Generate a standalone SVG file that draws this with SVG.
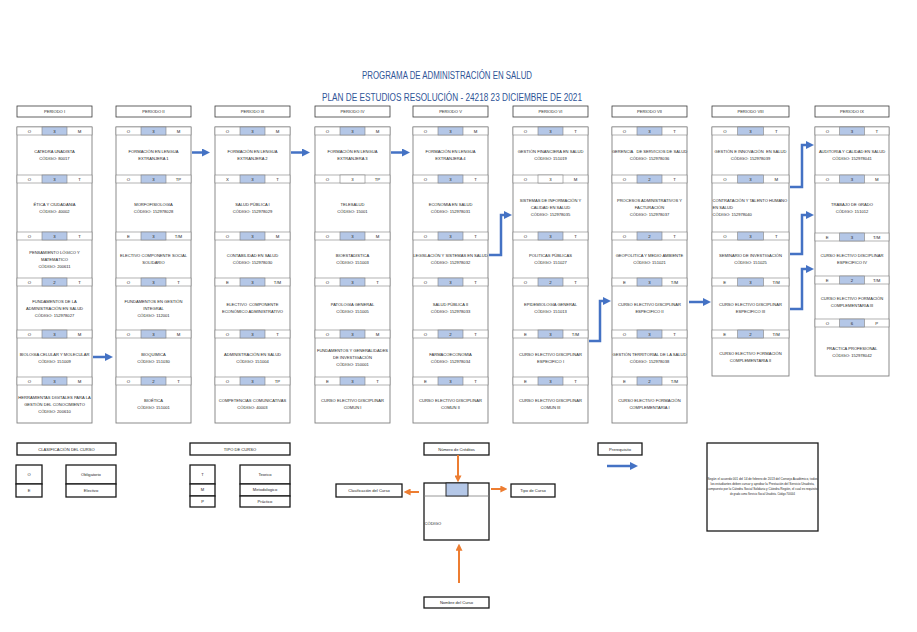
<svg xmlns="http://www.w3.org/2000/svg" width="917" height="632" viewBox="0 0 917 632">
<style>
.bg{fill:#fff}
.hdr{fill:#fff;stroke:#3a3a3a;stroke-width:0.8}
.col{fill:#fff;stroke:#7f7f7f;stroke-width:0.9}
.st{fill:#fff;stroke:#7f7f7f;stroke-width:0.6}
.hl{fill:#b4c7e7;stroke:#7f7f7f;stroke-width:0.6}
.nh{fill:#fff;stroke:#7f7f7f;stroke-width:0.6}
.t{font-family:"Liberation Sans",Arial,sans-serif;font-size:4.1px;fill:#262626;text-anchor:middle}
.k{font-size:4.3px}
.l{text-anchor:start}
.ttl{font-family:"Liberation Sans",Arial,sans-serif;font-size:10px;fill:#2f5597;text-anchor:middle}
.lg{fill:#fff;stroke:#1a1a1a;stroke-width:1.3}
.blue{fill:none;stroke:#4472c4;stroke-width:2.5}
.orange{fill:none;stroke:#ed7d31;stroke-width:2}
.nt{font-size:3.2px}
</style>
<defs>
<marker id="ab" viewBox="0 0 8 8" refX="3" refY="4" markerWidth="8" markerHeight="8" markerUnits="userSpaceOnUse" orient="auto"><path d="M0,0 L8,4 L0,8 z" fill="#4472c4"/></marker>
<marker id="ao" viewBox="0 0 8 8" refX="3" refY="4" markerWidth="7" markerHeight="7" markerUnits="userSpaceOnUse" orient="auto"><path d="M0,0 L8,4 L0,8 z" fill="#ed7d31"/></marker>
</defs>
<rect class="bg" x="0" y="0" width="917" height="632"/>
<g id="title">
<text class="ttl" x="447" y="79" textLength="170" lengthAdjust="spacingAndGlyphs">PROGRAMA DE ADMINISTRACIÓN EN SALUD</text>
<text class="ttl" x="452" y="101" textLength="260" lengthAdjust="spacingAndGlyphs">PLAN DE ESTUDIOS RESOLUCIÓN - 24218 23 DICIEMBRE DE 2021</text>
</g>

<!-- Column I -->
<g id="p1">
<rect class="hdr" x="17" y="106" width="75" height="11"/><text class="t" x="54.5" y="113.4">PERIODO I</text>
<rect class="col" x="17" y="127" width="75" height="296"/>
<g id="c1-1"><rect class="st" x="17" y="127" width="75" height="8"/><rect class="hl" x="42" y="127" width="25" height="8"/><text class="t k" x="29.5" y="132.6">O</text><text class="t k" x="54.5" y="132.6">3</text><text class="t k" x="79.5" y="132.6">M</text><text class="t" x="54.5" y="153">CATEDRA UNADISTA</text><text class="t" x="54.5" y="160">CÓDIGO: 80017</text></g>
<g id="c1-2"><rect class="st" x="17" y="175" width="75" height="8"/><rect class="hl" x="42" y="175" width="25" height="8"/><text class="t k" x="29.5" y="180.6">O</text><text class="t k" x="54.5" y="180.6">3</text><text class="t k" x="79.5" y="180.6">T</text><text class="t" x="54.5" y="205.5">ÉTICA Y CIUDADANÍA</text><text class="t" x="54.5" y="212.5">CÓDIGO: 40002</text></g>
<g id="c1-3"><rect class="st" x="17" y="232" width="75" height="8"/><rect class="hl" x="42" y="232" width="25" height="8"/><text class="t k" x="29.5" y="237.6">O</text><text class="t k" x="54.5" y="237.6">3</text><text class="t k" x="79.5" y="237.6">T</text><text class="t" x="54.5" y="253.5">PENSAMIENTO LÓGICO Y</text><text class="t" x="54.5" y="260.5">MATEMÁTICO</text><text class="t" x="54.5" y="267.5">CÓDIGO: 200611</text></g>
<g id="c1-4"><rect class="st" x="17" y="278" width="75" height="8"/><rect class="hl" x="42" y="278" width="25" height="8"/><text class="t k" x="29.5" y="283.6">O</text><text class="t k" x="54.5" y="283.6">2</text><text class="t k" x="79.5" y="283.6">T</text><text class="t" x="54.5" y="302.5">FUNDAMENTOS DE LA</text><text class="t" x="54.5" y="309.5">ADMINISTRACIÓN EN SALUD</text><text class="t" x="54.5" y="316.5">CÓDIGO: 152978027</text></g>
<g id="c1-5"><rect class="st" x="17" y="330" width="75" height="8"/><rect class="hl" x="42" y="330" width="25" height="8"/><text class="t k" x="29.5" y="335.6">O</text><text class="t k" x="54.5" y="335.6">3</text><text class="t k" x="79.5" y="335.6">M</text><text class="t" x="54.5" y="355.5">BIOLOGÍA CELULAR Y MOLECULAR</text><text class="t" x="54.5" y="362.5">CÓDIGO: 151009</text></g>
<g id="c1-6"><rect class="st" x="17" y="377" width="75" height="8"/><rect class="hl" x="42" y="377" width="25" height="8"/><text class="t k" x="29.5" y="382.6">O</text><text class="t k" x="54.5" y="382.6">3</text><text class="t k" x="79.5" y="382.6">M</text><text class="t" x="54.5" y="398.5">HERRAMIENTAS DIGITALES PARA LA</text><text class="t" x="54.5" y="405.5">GESTIÓN DEL CONOCIMIENTO</text><text class="t" x="54.5" y="412.5">CÓDIGO: 200610</text></g>
</g>

<!-- Column II -->
<g id="p2">
<rect class="hdr" x="116" y="106" width="75" height="11"/><text class="t" x="153.5" y="113.4">PERIODO II</text>
<rect class="col" x="116" y="127" width="75" height="296"/>
<g id="c2-1"><rect class="st" x="116" y="127" width="75" height="8"/><rect class="hl" x="141" y="127" width="25" height="8"/><text class="t k" x="128.5" y="132.6">O</text><text class="t k" x="153.5" y="132.6">3</text><text class="t k" x="178.5" y="132.6">M</text><text class="t" x="153.5" y="153">FORMACIÓN EN LENGUA</text><text class="t" x="153.5" y="160">EXTRANJERA 1</text></g>
<g id="c2-2"><rect class="st" x="116" y="175" width="75" height="8"/><rect class="hl" x="141" y="175" width="25" height="8"/><text class="t k" x="128.5" y="180.6">O</text><text class="t k" x="153.5" y="180.6">3</text><text class="t k" x="178.5" y="180.6">TP</text><text class="t" x="153.5" y="205.5">MORFOFISIOLOGÍA</text><text class="t" x="153.5" y="212.5">CÓDIGO: 152978028</text></g>
<g id="c2-3"><rect class="st" x="116" y="232" width="75" height="8"/><rect class="hl" x="141" y="232" width="25" height="8"/><text class="t k" x="128.5" y="237.6">E</text><text class="t k" x="153.5" y="237.6">3</text><text class="t k" x="178.5" y="237.6">T/M</text><text class="t" x="153.5" y="257">ELECTIVO COMPONENTE SOCIAL</text><text class="t" x="153.5" y="264">SOLIDARIO</text></g>
<g id="c2-4"><rect class="st" x="116" y="278" width="75" height="8"/><rect class="hl" x="141" y="278" width="25" height="8"/><text class="t k" x="128.5" y="283.6">O</text><text class="t k" x="153.5" y="283.6">3</text><text class="t k" x="178.5" y="283.6">T</text><text class="t" x="153.5" y="302.5">FUNDAMENTOS EN GESTIÓN</text><text class="t" x="153.5" y="309.5">INTEGRAL</text><text class="t" x="153.5" y="316.5">CÓDIGO: 112001</text></g>
<g id="c2-5"><rect class="st" x="116" y="330" width="75" height="8"/><rect class="hl" x="141" y="330" width="25" height="8"/><text class="t k" x="128.5" y="335.6">O</text><text class="t k" x="153.5" y="335.6">3</text><text class="t k" x="178.5" y="335.6">M</text><text class="t" x="153.5" y="355.5">BIOQUÍMICA</text><text class="t" x="153.5" y="362.5">CÓDIGO: 151030</text></g>
<g id="c2-6"><rect class="st" x="116" y="377" width="75" height="8"/><rect class="hl" x="141" y="377" width="25" height="8"/><text class="t k" x="128.5" y="382.6">O</text><text class="t k" x="153.5" y="382.6">2</text><text class="t k" x="178.5" y="382.6">T</text><text class="t" x="153.5" y="402">BIOÉTICA</text><text class="t" x="153.5" y="409">CÓDIGO: 151001</text></g>
</g>

<!-- Column III -->
<g id="p3">
<rect class="hdr" x="215" y="106" width="75" height="11"/><text class="t" x="252.5" y="113.4">PERIODO III</text>
<rect class="col" x="215" y="127" width="75" height="296"/>
<g id="c3-1"><rect class="st" x="215" y="127" width="75" height="8"/><rect class="hl" x="240" y="127" width="25" height="8"/><text class="t k" x="227.5" y="132.6">O</text><text class="t k" x="252.5" y="132.6">3</text><text class="t k" x="277.5" y="132.6">M</text><text class="t" x="252.5" y="153">FORMACIÓN EN LENGUA</text><text class="t" x="252.5" y="160">EXTRANJERA 2</text></g>
<g id="c3-2"><rect class="st" x="215" y="175" width="75" height="8"/><rect class="hl" x="240" y="175" width="25" height="8"/><text class="t k" x="227.5" y="180.6">X</text><text class="t k" x="252.5" y="180.6">3</text><text class="t k" x="277.5" y="180.6">T</text><text class="t" x="252.5" y="205.5">SALUD PÚBLICA I</text><text class="t" x="252.5" y="212.5">CÓDIGO: 152978029</text></g>
<g id="c3-3"><rect class="st" x="215" y="232" width="75" height="8"/><rect class="hl" x="240" y="232" width="25" height="8"/><text class="t k" x="227.5" y="237.6">O</text><text class="t k" x="252.5" y="237.6">3</text><text class="t k" x="277.5" y="237.6">M</text><text class="t" x="252.5" y="257">CONTABILIDAD EN SALUD</text><text class="t" x="252.5" y="264">CÓDIGO: 152978030</text></g>
<g id="c3-4"><rect class="st" x="215" y="278" width="75" height="8"/><rect class="hl" x="240" y="278" width="25" height="8"/><text class="t k" x="227.5" y="283.6">E</text><text class="t k" x="252.5" y="283.6">3</text><text class="t k" x="277.5" y="283.6">T/M</text><text class="t" x="252.5" y="306" xml:space="preserve">ELECTIVO  COMPONENTE</text><text class="t" x="252.5" y="313">ECONÓMICO ADMINISTRATIVO</text></g>
<g id="c3-5"><rect class="st" x="215" y="330" width="75" height="8"/><rect class="hl" x="240" y="330" width="25" height="8"/><text class="t k" x="227.5" y="335.6">O</text><text class="t k" x="252.5" y="335.6">3</text><text class="t k" x="277.5" y="335.6">T</text><text class="t" x="252.5" y="355.5">ADMINISTRACIÓN EN SALUD</text><text class="t" x="252.5" y="362.5">CÓDIGO: 151004</text></g>
<g id="c3-6"><rect class="st" x="215" y="377" width="75" height="8"/><rect class="hl" x="240" y="377" width="25" height="8"/><text class="t k" x="227.5" y="382.6">O</text><text class="t k" x="252.5" y="382.6">3</text><text class="t k" x="277.5" y="382.6">TP</text><text class="t" x="252.5" y="402">COMPETENCIAS COMUNICATIVAS</text><text class="t" x="252.5" y="409">CÓDIGO: 40003</text></g>
</g>

<!-- Column IV -->
<g id="p4">
<rect class="hdr" x="315" y="106" width="75" height="11"/><text class="t" x="352.5" y="113.4">PERIODO IV</text>
<rect class="col" x="315" y="127" width="75" height="296"/>
<g id="c4-1"><rect class="st" x="315" y="127" width="75" height="8"/><rect class="hl" x="340" y="127" width="25" height="8"/><text class="t k" x="327.5" y="132.6">O</text><text class="t k" x="352.5" y="132.6">3</text><text class="t k" x="377.5" y="132.6">M</text><text class="t" x="352.5" y="153">FORMACIÓN EN LENGUA</text><text class="t" x="352.5" y="160">EXTRANJERA 3</text></g>
<g id="c4-2"><rect class="st" x="315" y="175" width="75" height="8"/><rect class="nh" x="340" y="175" width="25" height="8"/><text class="t k" x="327.5" y="180.6">O</text><text class="t k" x="352.5" y="180.6">3</text><text class="t k" x="377.5" y="180.6">TP</text><text class="t" x="352.5" y="205.5">TELESALUD</text><text class="t" x="352.5" y="212.5">CÓDIGO: 15001</text></g>
<g id="c4-3"><rect class="st" x="315" y="232" width="75" height="8"/><rect class="hl" x="340" y="232" width="25" height="8"/><text class="t k" x="327.5" y="237.6">O</text><text class="t k" x="352.5" y="237.6">3</text><text class="t k" x="377.5" y="237.6">M</text><text class="t" x="352.5" y="257">BIOESTADÍSTICA</text><text class="t" x="352.5" y="264">CÓDIGO: 151003</text></g>
<g id="c4-4"><rect class="st" x="315" y="278" width="75" height="8"/><rect class="hl" x="340" y="278" width="25" height="8"/><text class="t k" x="327.5" y="283.6">O</text><text class="t k" x="352.5" y="283.6">3</text><text class="t k" x="377.5" y="283.6">T</text><text class="t" x="352.5" y="306">PATOLOGÍA GENERAL</text><text class="t" x="352.5" y="313">CÓDIGO: 151005</text></g>
<g id="c4-5"><rect class="st" x="315" y="330" width="75" height="8"/><rect class="hl" x="340" y="330" width="25" height="8"/><text class="t k" x="327.5" y="335.6">O</text><text class="t k" x="352.5" y="335.6">3</text><text class="t k" x="377.5" y="335.6">M</text><text class="t" x="352.5" y="352">FUNDAMENTOS Y GENERALIDADES</text><text class="t" x="352.5" y="359">DE INVESTIGACIÓN</text><text class="t" x="352.5" y="366">CÓDIGO: 150001</text></g>
<g id="c4-6"><rect class="st" x="315" y="377" width="75" height="8"/><rect class="hl" x="340" y="377" width="25" height="8"/><text class="t k" x="327.5" y="382.6">E</text><text class="t k" x="352.5" y="382.6">3</text><text class="t k" x="377.5" y="382.6">T</text><text class="t" x="352.5" y="402">CURSO ELECTIVO DISCIPLINAR</text><text class="t" x="352.5" y="409">COMUN I</text></g>
</g>

<!-- Column V -->
<g id="p5">
<rect class="hdr" x="413" y="106" width="75" height="11"/><text class="t" x="450.5" y="113.4">PERIODO V</text>
<rect class="col" x="413" y="127" width="75" height="296"/>
<g id="c5-1"><rect class="st" x="413" y="127" width="75" height="8"/><rect class="hl" x="438" y="127" width="25" height="8"/><text class="t k" x="425.5" y="132.6">O</text><text class="t k" x="450.5" y="132.6">3</text><text class="t k" x="475.5" y="132.6">M</text><text class="t" x="450.5" y="153">FORMACIÓN EN LENGUA</text><text class="t" x="450.5" y="160">EXTRANJERA 4</text></g>
<g id="c5-2"><rect class="st" x="413" y="175" width="75" height="8"/><rect class="hl" x="438" y="175" width="25" height="8"/><text class="t k" x="425.5" y="180.6">O</text><text class="t k" x="450.5" y="180.6">3</text><text class="t k" x="475.5" y="180.6">T</text><text class="t" x="450.5" y="205.5">ECONOMÍA EN SALUD</text><text class="t" x="450.5" y="212.5">CÓDIGO: 152978031</text></g>
<g id="c5-3"><rect class="st" x="413" y="232" width="75" height="8"/><rect class="hl" x="438" y="232" width="25" height="8"/><text class="t k" x="425.5" y="237.6">O</text><text class="t k" x="450.5" y="237.6">3</text><text class="t k" x="475.5" y="237.6">T</text><text class="t" x="450.5" y="257">LEGISLACIÓN Y SISTEMAS EN SALUD</text><text class="t" x="450.5" y="264">CÓDIGO: 152978032</text></g>
<g id="c5-4"><rect class="st" x="413" y="278" width="75" height="8"/><rect class="hl" x="438" y="278" width="25" height="8"/><text class="t k" x="425.5" y="283.6">O</text><text class="t k" x="450.5" y="283.6">3</text><text class="t k" x="475.5" y="283.6">T</text><text class="t" x="450.5" y="306">SALUD PÚBLICA II</text><text class="t" x="450.5" y="313">CÓDIGO: 152978033</text></g>
<g id="c5-5"><rect class="st" x="413" y="330" width="75" height="8"/><rect class="hl" x="438" y="330" width="25" height="8"/><text class="t k" x="425.5" y="335.6">O</text><text class="t k" x="450.5" y="335.6">2</text><text class="t k" x="475.5" y="335.6">T</text><text class="t" x="450.5" y="355.5">FARMACOECONOMÍA</text><text class="t" x="450.5" y="362.5">CÓDIGO: 152978034</text></g>
<g id="c5-6"><rect class="st" x="413" y="377" width="75" height="8"/><rect class="hl" x="438" y="377" width="25" height="8"/><text class="t k" x="425.5" y="382.6">E</text><text class="t k" x="450.5" y="382.6">3</text><text class="t k" x="475.5" y="382.6">T</text><text class="t" x="450.5" y="402">CURSO ELECTIVO DISCIPLINAR</text><text class="t" x="450.5" y="409">COMUN II</text></g>
</g>

<!-- Column VI -->
<g id="p6">
<rect class="hdr" x="513" y="106" width="75" height="11"/><text class="t" x="550.5" y="113.4">PERIODO VI</text>
<rect class="col" x="513" y="127" width="75" height="296"/>
<g id="c6-1"><rect class="st" x="513" y="127" width="75" height="8"/><rect class="hl" x="538" y="127" width="25" height="8"/><text class="t k" x="525.5" y="132.6">O</text><text class="t k" x="550.5" y="132.6">3</text><text class="t k" x="575.5" y="132.6">T</text><text class="t" x="550.5" y="153">GESTIÓN FINANCIERA EN SALUD</text><text class="t" x="550.5" y="160">CÓDIGO: 151019</text></g>
<g id="c6-2"><rect class="st" x="513" y="175" width="75" height="8"/><rect class="nh" x="538" y="175" width="25" height="8"/><text class="t k" x="525.5" y="180.6">O</text><text class="t k" x="550.5" y="180.6">3</text><text class="t k" x="575.5" y="180.6">M</text><text class="t" x="550.5" y="202">SISTEMAS DE INFORMACIÓN Y</text><text class="t" x="550.5" y="209">CALIDAD EN SALUD</text><text class="t" x="550.5" y="216">CÓDIGO: 152978035</text></g>
<g id="c6-3"><rect class="st" x="513" y="232" width="75" height="8"/><rect class="hl" x="538" y="232" width="25" height="8"/><text class="t k" x="525.5" y="237.6">O</text><text class="t k" x="550.5" y="237.6">3</text><text class="t k" x="575.5" y="237.6">T</text><text class="t" x="550.5" y="257">POLÍTICAS PÚBLICAS</text><text class="t" x="550.5" y="264">CÓDIGO: 151027</text></g>
<g id="c6-4"><rect class="st" x="513" y="278" width="75" height="8"/><rect class="hl" x="538" y="278" width="25" height="8"/><text class="t k" x="525.5" y="283.6">O</text><text class="t k" x="550.5" y="283.6">2</text><text class="t k" x="575.5" y="283.6">T</text><text class="t" x="550.5" y="306">EPIDEMIOLOGÍA GENERAL</text><text class="t" x="550.5" y="313">CÓDIGO: 151013</text></g>
<g id="c6-5"><rect class="st" x="513" y="330" width="75" height="8"/><rect class="hl" x="538" y="330" width="25" height="8"/><text class="t k" x="525.5" y="335.6">E</text><text class="t k" x="550.5" y="335.6">3</text><text class="t k" x="575.5" y="335.6">T/M</text><text class="t" x="550.5" y="355.5">CURSO ELECTIVO DISCIPLINAR</text><text class="t" x="550.5" y="362.5">ESPECÍFICO I</text></g>
<g id="c6-6"><rect class="st" x="513" y="377" width="75" height="8"/><rect class="hl" x="538" y="377" width="25" height="8"/><text class="t k" x="525.5" y="382.6">E</text><text class="t k" x="550.5" y="382.6">3</text><text class="t k" x="575.5" y="382.6">T</text><text class="t" x="550.5" y="402">CURSO ELECTIVO DISCIPLINAR</text><text class="t" x="550.5" y="409">COMUN III</text></g>
</g>

<!-- Column VII -->
<g id="p7">
<rect class="hdr" x="612" y="106" width="75" height="11"/><text class="t" x="649.5" y="113.4">PERIODO VII</text>
<rect class="col" x="612" y="127" width="75" height="296"/>
<g id="c7-1"><rect class="st" x="612" y="127" width="75" height="8"/><rect class="hl" x="637" y="127" width="25" height="8"/><text class="t k" x="624.5" y="132.6">O</text><text class="t k" x="649.5" y="132.6">3</text><text class="t k" x="674.5" y="132.6">T</text><text class="t" x="649.5" y="153" xml:space="preserve">GERENCIA   DE SERVICIOS DE SALUD</text><text class="t" x="649.5" y="160">CÓDIGO: 152978036</text></g>
<g id="c7-2"><rect class="st" x="612" y="175" width="75" height="8"/><rect class="hl" x="637" y="175" width="25" height="8"/><text class="t k" x="624.5" y="180.6">O</text><text class="t k" x="649.5" y="180.6">2</text><text class="t k" x="674.5" y="180.6">T</text><text class="t" x="649.5" y="202">PROCESOS ADMINISTRATIVOS Y</text><text class="t" x="649.5" y="209">FACTURACIÓN</text><text class="t" x="649.5" y="216">CÓDIGO: 152978037</text></g>
<g id="c7-3"><rect class="st" x="612" y="232" width="75" height="8"/><rect class="hl" x="637" y="232" width="25" height="8"/><text class="t k" x="624.5" y="237.6">O</text><text class="t k" x="649.5" y="237.6">2</text><text class="t k" x="674.5" y="237.6">T</text><text class="t" x="649.5" y="257">GEOPOLÍTICA Y MEDIO AMBIENTE</text><text class="t" x="649.5" y="264">CÓDIGO: 151021</text></g>
<g id="c7-4"><rect class="st" x="612" y="278" width="75" height="8"/><rect class="hl" x="637" y="278" width="25" height="8"/><text class="t k" x="624.5" y="283.6">E</text><text class="t k" x="649.5" y="283.6">3</text><text class="t k" x="674.5" y="283.6">T/M</text><text class="t" x="649.5" y="306">CURSO ELECTIVO DISCIPLINAR</text><text class="t" x="649.5" y="313">ESPECÍFICO II</text></g>
<g id="c7-5"><rect class="st" x="612" y="330" width="75" height="8"/><rect class="hl" x="637" y="330" width="25" height="8"/><text class="t k" x="624.5" y="335.6">O</text><text class="t k" x="649.5" y="335.6">3</text><text class="t k" x="674.5" y="335.6">T</text><text class="t" x="649.5" y="355.5">GESTIÓN TERRITORIAL DE LA SALUD</text><text class="t" x="649.5" y="362.5">CÓDIGO: 152978038</text></g>
<g id="c7-6"><rect class="st" x="612" y="377" width="75" height="8"/><rect class="hl" x="637" y="377" width="25" height="8"/><text class="t k" x="624.5" y="382.6">E</text><text class="t k" x="649.5" y="382.6">2</text><text class="t k" x="674.5" y="382.6">T/M</text><text class="t" x="649.5" y="402">CURSO ELECTIVO FORMACIÓN</text><text class="t" x="649.5" y="409">COMPLEMENTARIA I</text></g>
</g>

<!-- Column VIII -->
<g id="p8">
<rect class="hdr" x="712" y="106" width="77" height="11"/><text class="t" x="750.5" y="113.4">PERIODO VIII</text>
<rect class="col" x="712" y="127" width="77" height="249"/>
<g id="c8-1"><rect class="st" x="712" y="127" width="77" height="8"/><rect class="hl" x="737.7" y="127" width="25.7" height="8"/><text class="t k" x="724.8" y="132.6">O</text><text class="t k" x="750.5" y="132.6">3</text><text class="t k" x="776.2" y="132.6">T</text><text class="t" x="750.5" y="153" xml:space="preserve">GESTIÓN E INNOVACIÓN  EN SALUD</text><text class="t" x="750.5" y="160">CÓDIGO: 152978039</text></g>
<g id="c8-2"><rect class="st" x="712" y="175" width="77" height="8"/><rect class="hl" x="737.7" y="175" width="25.7" height="8"/><text class="t k" x="724.8" y="180.6">O</text><text class="t k" x="750.5" y="180.6">3</text><text class="t k" x="776.2" y="180.6">M</text><text class="t l" x="712.5" y="202">CONTRATACIÓN Y TALENTO HUMANO</text><text class="t l" x="712.5" y="209">EN SALUD</text><text class="t l" x="712.5" y="216">CÓDIGO: 152978040</text></g>
<g id="c8-3"><rect class="st" x="712" y="232" width="77" height="8"/><rect class="hl" x="737.7" y="232" width="25.7" height="8"/><text class="t k" x="724.8" y="237.6">O</text><text class="t k" x="750.5" y="237.6">3</text><text class="t k" x="776.2" y="237.6">T</text><text class="t" x="750.5" y="257">SEMINARIO DE INVESTIGACIÓN</text><text class="t" x="750.5" y="264">CÓDIGO: 151025</text></g>
<g id="c8-4"><rect class="st" x="712" y="278" width="77" height="8"/><rect class="hl" x="737.7" y="278" width="25.7" height="8"/><text class="t k" x="724.8" y="283.6">E</text><text class="t k" x="750.5" y="283.6">3</text><text class="t k" x="776.2" y="283.6">T/M</text><text class="t" x="750.5" y="306">CURSO ELECTIVO DISCIPLINAR</text><text class="t" x="750.5" y="313">ESPECÍFICO III</text></g>
<g id="c8-5"><rect class="st" x="712" y="330" width="77" height="8"/><rect class="hl" x="737.7" y="330" width="25.7" height="8"/><text class="t k" x="724.8" y="335.6">E</text><text class="t k" x="750.5" y="335.6">2</text><text class="t k" x="776.2" y="335.6">T/M</text><text class="t" x="750.5" y="355">CURSO ELECTIVO FORMACIÓN</text><text class="t" x="750.5" y="362">COMPLEMENTARIA II</text></g>
</g>

<!-- Column IX -->
<g id="p9">
<rect class="hdr" x="815" y="106" width="74" height="11"/><text class="t" x="852" y="113.4">PERIODO IX</text>
<rect class="col" x="815" y="127" width="74" height="249"/>
<g id="c9-1"><rect class="st" x="815" y="127" width="74" height="8"/><rect class="hl" x="839.7" y="127" width="24.7" height="8"/><text class="t k" x="827.3" y="132.6">O</text><text class="t k" x="852" y="132.6">3</text><text class="t k" x="876.7" y="132.6">T</text><text class="t" x="852" y="153">AUDITORÍA Y CALIDAD EN SALUD</text><text class="t" x="852" y="160">CÓDIGO: 152978041</text></g>
<g id="c9-2"><rect class="st" x="815" y="175" width="74" height="8"/><rect class="hl" x="839.7" y="175" width="24.7" height="8"/><text class="t k" x="827.3" y="180.6">O</text><text class="t k" x="852" y="180.6">3</text><text class="t k" x="876.7" y="180.6">M</text><text class="t" x="852" y="206">TRABAJO DE GRADO</text><text class="t" x="852" y="213">CÓDIGO: 151012</text></g>
<g id="c9-3"><rect class="st" x="815" y="233" width="74" height="8"/><rect class="hl" x="839.7" y="233" width="24.7" height="8"/><text class="t k" x="827.3" y="238.6">E</text><text class="t k" x="852" y="238.6">3</text><text class="t k" x="876.7" y="238.6">T/M</text><text class="t" x="852" y="256.5">CURSO ELECTIVO DISCIPLINAR</text><text class="t" x="852" y="263.5">ESPECÍFICO IV</text></g>
<g id="c9-4"><rect class="st" x="815" y="276" width="74" height="8"/><rect class="hl" x="839.7" y="276" width="24.7" height="8"/><text class="t k" x="827.3" y="281.6">E</text><text class="t k" x="852" y="281.6">2</text><text class="t k" x="876.7" y="281.6">T/M</text><text class="t" x="852" y="299.5">CURSO ELECTIVO FORMACIÓN</text><text class="t" x="852" y="306.5">COMPLEMENTARIA III</text></g>
<g id="c9-5"><rect class="st" x="815" y="319" width="74" height="8"/><rect class="hl" x="839.7" y="319" width="24.7" height="8"/><text class="t k" x="827.3" y="324.6">O</text><text class="t k" x="852" y="324.6">6</text><text class="t k" x="876.7" y="324.6">P</text><text class="t" x="852" y="349.5">PRÁCTICA PROFESIONAL</text><text class="t" x="852" y="356.5">CÓDIGO: 152978042</text></g>
</g>

<!-- Connectors -->
<g id="connectors">
<path class="blue" d="M192,152.5 H205" marker-end="url(#ab)"/>
<path class="blue" d="M291,152.5 H305" marker-end="url(#ab)"/>
<path class="blue" d="M391,152.5 H405" marker-end="url(#ab)"/>
<path class="blue" d="M93,357 H108" marker-end="url(#ab)"/>
<path class="blue" d="M489,255 H501 V215 H507" marker-end="url(#ab)"/>
<path class="blue" d="M589,341 H600 V301 H606" marker-end="url(#ab)"/>
<path class="blue" d="M689,302 H706" marker-end="url(#ab)"/>
<path class="blue" d="M790,187 H802 V145 H809" marker-end="url(#ab)"/>
<path class="blue" d="M790,254 H802 V215 H809" marker-end="url(#ab)"/>
<path class="blue" d="M790,309 H802 V269 H809" marker-end="url(#ab)"/>
</g>

<!-- Legend: classification -->
<g id="leg-clasif">
<rect class="lg" x="17" y="443" width="99" height="12"/><text class="t" x="66.5" y="450.6">CLASIFICACIÓN DEL CURSO</text>
<rect class="lg" x="16" y="465" width="26" height="19"/><text class="t" x="29" y="476">O</text>
<rect class="lg" x="16" y="484" width="26" height="13"/><text class="t" x="29" y="491.8">E</text>
<rect class="lg" x="66" y="465" width="50" height="19"/><text class="t" x="91" y="476">Obligatorio</text>
<rect class="lg" x="66" y="484" width="50" height="13"/><text class="t" x="91" y="491.8">Electivo</text>
</g>
<g id="leg-tipo">
<rect class="lg" x="190" y="443" width="100" height="12"/><text class="t" x="240" y="450.6">TIPO DE CURSO</text>
<rect class="lg" x="190" y="465" width="25" height="19"/><text class="t" x="202.5" y="476">T</text>
<rect class="lg" x="190" y="484" width="25" height="12"/><text class="t" x="202.5" y="491.4">M</text>
<rect class="lg" x="190" y="496" width="25" height="11"/><text class="t" x="202.5" y="503">P</text>
<rect class="lg" x="240" y="465" width="50" height="19"/><text class="t" x="265" y="476">Teorico</text>
<rect class="lg" x="240" y="484" width="50" height="12"/><text class="t" x="265" y="491.4">Metodologico</text>
<rect class="lg" x="240" y="496" width="50" height="11"/><text class="t" x="265" y="503">Práctico</text>
</g>

<!-- Legend: course card -->
<g id="leg-card">
<rect class="lg" x="424" y="483" width="65" height="57"/>
<line x1="424" y1="496" x2="489" y2="496" stroke="#7f7f7f" stroke-width="0.8"/>
<rect x="446" y="483" width="22" height="13" fill="#b4c7e7" stroke="#1a1a1a" stroke-width="0.9"/>
<text class="t l" x="424.5" y="524.5">CÓDIGO</text>
</g>
<g id="leg-creditos"><rect class="lg" x="424" y="443" width="65" height="12"/><text class="t" x="456.5" y="450.6">Número de Créditos</text></g>
<g id="leg-clas2"><rect class="lg" x="336" y="484" width="66" height="13"/><text class="t" x="369" y="491.8">Clasificación del Curso</text></g>
<g id="leg-tipo2"><rect class="lg" x="511" y="484" width="44" height="13"/><text class="t" x="533" y="491.8">Tipo de Curso</text></g>
<g id="leg-nombre"><rect class="lg" x="424" y="597" width="65" height="11"/><text class="t" x="456.5" y="604">Nombre del Curso</text></g>
<g id="leg-prereq"><rect class="lg" x="598" y="443" width="44" height="12"/><text class="t" x="620" y="450.6">Prerequisito</text></g>
<g id="leg-arrows">
<path class="orange" d="M458,455 V478" marker-end="url(#ao)"/>
<path class="orange" d="M419,492 H408" marker-end="url(#ao)"/>
<path class="orange" d="M491,489 H503" marker-end="url(#ao)"/>
<path class="orange" d="M459,583 V548" marker-end="url(#ao)"/>
<path class="blue" d="M607,466 H633" marker-end="url(#ab)"/>
</g>
<g id="leg-note">
<rect class="lg" x="707" y="443" width="111" height="88"/>
<text class="t nt" x="762.5" y="479.5" textLength="110" lengthAdjust="spacingAndGlyphs">Según el acuerdo 001 del 14 de febrero de 2013 del Consejo Académico, todos</text>
<text class="t nt" x="762.5" y="484.5" textLength="104" lengthAdjust="spacingAndGlyphs">los estudiantes deben cursar y aprobar la Prestación del Servicio Unadista,</text>
<text class="t nt" x="762.5" y="489.5" textLength="110" lengthAdjust="spacingAndGlyphs">compuesto por la Cátedra Social Solidaria y Cátedra Región, el cual es requisito</text>
<text class="t nt" x="762.5" y="494.5" textLength="65" lengthAdjust="spacingAndGlyphs">de grado como Servicio Social Unadista. Código 700004</text>
</g>
</svg>
